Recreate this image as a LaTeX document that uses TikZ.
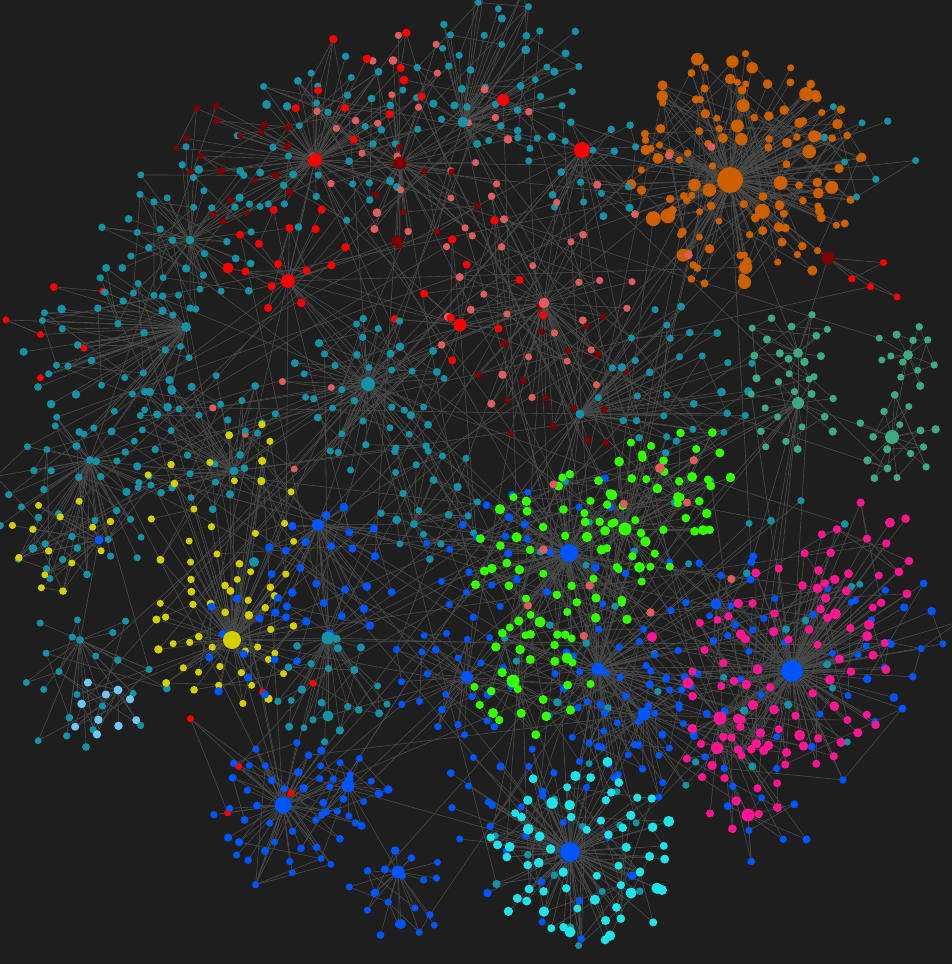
\documentclass[tikz,border=0pt]{standalone}
\pgfdeclarelayer{back}
\pgfdeclarelayer{bg}
\pgfdeclarelayer{top}
\pgfsetlayers{back,bg,main,top}
\definecolor{bgc}{HTML}{1E1E1E}
\definecolor{edc}{HTML}{4A4C4A}
\definecolor{cor}{HTML}{CC5F00}
\definecolor{cte}{HTML}{1591A8}
\definecolor{cre}{HTML}{FF0000}
\definecolor{cdr}{HTML}{800000}
\definecolor{csa}{HTML}{E05C5C}
\definecolor{cye}{HTML}{D4D000}
\definecolor{cbl}{HTML}{0055FF}
\definecolor{cgr}{HTML}{33FF00}
\definecolor{cpk}{HTML}{FF1493}
\definecolor{ccy}{HTML}{1EE3E8}
\definecolor{csg}{HTML}{3DAA80}
\definecolor{clb}{HTML}{6CC8F5}
\tikzset{
  nd/.style={circle,inner sep=0pt,draw=none},
  ed/.style={draw=edc,line width=0.6pt},
}
\newcommand\hub[5]{%
  \begin{pgfonlayer}{top}\node[nd,fill=#4,minimum size=#5pt] (#1) at (#2,#3) {};\end{pgfonlayer}}
\newcommand\grp[9]{%
  \foreach \i in {1,...,#5}{%
    \pgfmathsetmacro\ang{mod(\i*100,360)+mod(\i*37.508,360)+30*(rnd-0.5)}%
    \pgfmathsetmacro\rad{#4*sqrt(0.05+0.95*(\i-0.5)/#5)*(1+0.16*(rnd-0.5))}%
    \pgfmathsetmacro\sz{#7+(#8-#7)*rnd*rnd}%
    \node[nd,fill=#6,minimum size=\sz pt] (#1\i) at ({#2+\rad*cos(\ang)},{#3+\rad*sin(\ang)}) {};%
  }%
  \begin{pgfonlayer}{bg}%
  \foreach \i in {1,...,#5}{\draw[ed] (#1\i) -- (#9);}%
  \pgfmathtruncatemacro\nx{max(1,round(#5*0.5))}%
  \pgfmathtruncatemacro\nm{#5-1}%
  \foreach \k in {1,...,\nx}{%
    \pgfmathtruncatemacro\ia{random(1,#5)}%
    \pgfmathtruncatemacro\ib{mod(\ia-1+random(1,\nm),#5)+1}%
    \draw[ed] (#1\ia) -- (#1\ib);%
  }%
  \pgfmathtruncatemacro\ny{max(1,round(#5*0.12))}%
  \foreach \k in {1,...,\ny}{%
    \pgfmathtruncatemacro\ia{random(1,#5)}%
    \pgfmathrandomitem\hh{hubs}%
    \draw[ed] (#1\ia) -- (\hh);%
  }%
  \end{pgfonlayer}%
}
\pgfmathdeclarerandomlist{hubs}{{O}{R1}{R2}{R3}{R4}{R5}{D1}{S1}{T1}{T2}{T3}{T6}{T7}{G2}{Y1}{B1}{B2}{B3}{B4}{B5}{B7}{B8}{B9}{N1}{P1}{T10}{T9}}
\begin{document}
\begin{tikzpicture}[x=1pt,y=-1pt]
\pgfmathsetseed{7}
\begin{pgfonlayer}{back}
\fill[bgc] (0,0) rectangle (952,964);
\end{pgfonlayer}
\useasboundingbox (0,0) rectangle (952,964);
% hubs
\hub{O}{730}{180}{cor}{26}
\hub{R1}{315}{160}{cre}{14}
\hub{R2}{582}{150}{cre}{16}
\hub{R3}{503}{100}{cre}{12}
\hub{R4}{288}{281}{cre}{14}
\hub{R5}{460}{325}{cre}{13}
\hub{R6}{228}{268}{cre}{11}
\hub{R7}{404}{80}{cre}{9}
\hub{D1}{400}{163}{cdr}{13}
\hub{D2}{828}{258}{cdr}{13}
\hub{D3}{397}{241}{cdr}{11}
\hub{S1}{544}{303}{csa}{11}
\hub{S2}{660}{468}{csa}{10}
\hub{T1}{368}{384}{cte}{14}
\hub{T2}{463}{122}{cte}{11}
\hub{T3}{328}{638}{cte}{13}
\hub{T4}{328}{716}{cte}{11}
\hub{T5}{254}{562}{cte}{10}
\hub{T6}{186}{327}{cte}{10}
\hub{T7}{580}{414}{cte}{9}
\hub{T8}{190}{240}{cte}{9}
\hub{T9}{90}{460}{cte}{8}
\hub{T10}{234}{471}{cte}{9}
\hub{T11}{80}{640}{cte}{8}
\hub{T12}{414}{524}{cte}{8}
\hub{G1}{798}{353}{csg}{10}
\hub{G2}{798}{403}{csg}{12}
\hub{G3}{892}{437}{csg}{14}
\hub{G4}{908}{355}{csg}{10}
\hub{Y1}{232}{640}{cye}{18}
\hub{L1}{118}{690}{clb}{9}
\hub{B1}{569}{553}{cbl}{18}
\hub{B2}{792}{671}{cbl}{22}
\hub{B3}{570}{852}{cbl}{20}
\hub{B4}{283}{805}{cbl}{17}
\hub{B5}{318}{525}{cbl}{12}
\hub{B6}{99}{540}{cbl}{9}
\hub{B7}{467}{677}{cbl}{12}
\hub{B8}{598}{669}{cbl}{13}
\hub{B9}{644}{714}{cbl}{13}
\hub{B10}{716}{604}{cbl}{11}
\hub{B11}{398}{872}{cbl}{13}
\hub{B12}{348}{786}{cbl}{13}
\hub{B13}{401}{924}{cbl}{10}
\hub{N1}{625}{529}{cgr}{13}
\hub{N2}{678}{497}{cgr}{10}
\hub{N3}{540}{622}{cgr}{11}
\hub{N4}{567}{658}{cgr}{11}
\hub{N5}{513}{681}{cgr}{13}
\hub{N6}{493}{713}{cgr}{10}
\hub{P1}{720}{718}{cpk}{13}
\hub{P2}{748}{815}{cpk}{13}
\hub{P3}{717}{748}{cpk}{12}
\hub{P4}{688}{683}{cpk}{11}
\hub{P5}{652}{637}{cpk}{10}
\hub{C1}{570}{932}{ccy}{11}
\hub{C2}{631}{893}{ccy}{11}
\hub{C3}{662}{890}{ccy}{10}
% hub-hub links
\begin{pgfonlayer}{bg}
\foreach \a/\b in {O/R2,O/D2,R2/R3,R3/T2,R1/D1,R1/R4,R4/R6,R4/R5,R5/S1,S1/R2,T1/R5,T1/R4,T1/B5,Y1/B5,Y1/T3,T3/T4,B5/T3,B4/B12,B12/B11,B11/B13,B7/B1,B1/N1,B1/B8,B8/B9,B9/P1,P1/B2,B2/B10,B10/N1,B3/B9,B3/C1,N3/B1,N5/B7,G2/G1,G2/G3,G1/O,G4/G3,T7/S1,S2/N2,R7/R3,D3/R4,D3/D1,T8/R6,T9/T6,T10/T1,T11/B6,T12/B5,L1/Y1,N2/N1,N4/B8,N6/N5,P2/P3,P3/P1,P4/P1,P5/B8,C2/B3,C3/B3,T5/Y1,B6/T9,D2/G1}{\draw[ed] (\a) -- (\b);}
\end{pgfonlayer}
% orange
\grp{oa}{745}{170}{118}{125}{cor}{7}{16}{O}
\grp{sd}{660}{200}{80}{5}{csa}{8}{9}{O}
\grp{tn}{860}{150}{55}{8}{cte}{7}{8}{O}
% top teal / red
\grp{ta}{500}{70}{85}{45}{cte}{7}{9}{T2}
\grp{tb}{330}{140}{90}{40}{cte}{7}{9}{R1}
\grp{tc}{590}{170}{60}{18}{cte}{7}{9}{R2}
\grp{sa}{420}{140}{110}{28}{csa}{7}{9}{D1}
\grp{sb}{530}{300}{110}{28}{csa}{7}{9}{S1}
\grp{ra}{290}{250}{60}{14}{cre}{8}{9}{R4}
\grp{rb}{360}{90}{70}{10}{cre}{8}{9}{R1}
\grp{rc}{470}{300}{80}{10}{cre}{8}{9}{R5}
\grp{rd}{55}{320}{60}{6}{cre}{7}{8}{T6}
\grp{re}{260}{740}{90}{6}{cre}{7}{8}{B4}
\grp{rf}{880}{280}{30}{4}{cre}{7}{8}{D2}
\grp{da}{235}{160}{70}{20}{cdr}{6}{8}{R1}
\grp{db}{560}{380}{80}{18}{cdr}{6}{8}{S1}
\grp{dc}{420}{200}{60}{8}{cdr}{6}{8}{D1}
\grp{se}{270}{420}{70}{5}{csa}{7}{8}{T1}
% left teal
\grp{td}{190}{230}{85}{40}{cte}{7}{9}{T8}
\grp{te}{110}{350}{90}{40}{cte}{7}{9}{T6}
\grp{tf}{75}{500}{85}{40}{cte}{7}{9}{T9}
\grp{tg}{200}{440}{80}{35}{cte}{7}{9}{T10}
\grp{th}{90}{680}{75}{22}{cte}{7}{8}{T11}
\grp{ti}{370}{390}{80}{40}{cte}{7}{9}{T1}
\grp{tj}{430}{500}{60}{20}{cte}{7}{9}{T12}
\grp{tk}{330}{690}{60}{22}{cte}{7}{9}{T3}
\grp{tl}{690}{620}{200}{40}{cte}{7}{9}{B8}
\grp{tm}{680}{380}{80}{30}{cte}{7}{9}{T7}
\grp{to}{575}{860}{90}{12}{cte}{7}{9}{B3}
% yellow, light blue
\grp{ya}{225}{635}{75}{38}{cye}{7}{9}{Y1}
\grp{yb}{230}{510}{90}{25}{cye}{7}{9}{Y1}
\grp{yc}{60}{540}{55}{14}{cye}{7}{8}{B6}
\grp{lb}{105}{710}{35}{9}{clb}{8}{9}{L1}
% blue
\grp{ba}{255}{640}{60}{14}{cbl}{8}{9}{Y1}
\grp{bb}{330}{570}{70}{25}{cbl}{8}{9}{B5}
\grp{bc}{283}{810}{75}{40}{cbl}{7}{9}{B4}
\grp{bd}{350}{790}{40}{14}{cbl}{7}{9}{B12}
\grp{be}{400}{895}{50}{18}{cbl}{7}{9}{B11}
\grp{bf}{455}{680}{65}{25}{cbl}{7}{9}{B7}
\grp{bg}{620}{700}{80}{35}{cbl}{7}{9}{B8}
\grp{bh}{650}{730}{70}{20}{cbl}{7}{9}{B9}
\grp{bi}{790}{680}{120}{30}{cbl}{7}{9}{B2}
\grp{bj}{900}{630}{60}{14}{cbl}{7}{9}{B2}
\grp{bk}{720}{600}{60}{12}{cbl}{7}{9}{B10}
\grp{bl}{570}{540}{80}{12}{cbl}{7}{9}{B1}
\grp{bm}{560}{860}{90}{12}{cbl}{7}{9}{B3}
\grp{bn}{480}{560}{60}{15}{cbl}{7}{9}{B1}
\grp{bo}{500}{790}{60}{14}{cbl}{7}{9}{B3}
\grp{bp}{760}{820}{50}{8}{cbl}{7}{9}{P2}
% green
\grp{ga}{560}{560}{90}{50}{cgr}{8}{12}{B1}
\grp{gb}{650}{510}{70}{30}{cgr}{8}{11}{N1}
\grp{gc}{530}{680}{60}{22}{cgr}{8}{11}{N5}
\grp{gd}{690}{470}{50}{12}{cgr}{8}{10}{N2}
\grp{sc}{620}{560}{120}{10}{csa}{8}{9}{B1}
% pink
\grp{pa}{790}{670}{110}{65}{cpk}{8}{12}{B2}
\grp{pb}{740}{770}{60}{20}{cpk}{8}{11}{P1}
\grp{pc}{860}{560}{60}{18}{cpk}{8}{10}{B2}
% cyan
\grp{ca}{580}{855}{95}{60}{ccy}{8}{12}{B3}
% sea green
\grp{sga}{790}{345}{45}{14}{csg}{7}{9}{G1}
\grp{sgb}{790}{410}{50}{16}{csg}{7}{9}{G2}
\grp{sgc}{895}{440}{45}{16}{csg}{7}{9}{G3}
\grp{sgd}{910}{355}{35}{12}{csg}{7}{9}{G4}
\end{tikzpicture}
\end{document}
